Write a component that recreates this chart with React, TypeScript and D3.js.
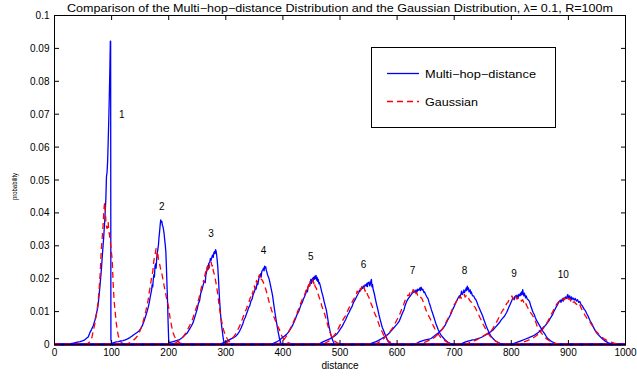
import React from "react";
import * as d3 from "d3";

type Pt = [number, number];

const xTicks = [0, 100, 200, 300, 400, 500, 600, 700, 800, 900, 1000];
const yTicks = [0, 0.01, 0.02, 0.03, 0.04, 0.05, 0.06, 0.07, 0.08, 0.09, 0.1];
const hopNames = ["1", "2", "3", "4", "5", "6", "7", "8", "9", "10"];
const hopLabelD = [118, 188, 274, 366, 449, 541, 627, 718, 805, 891];
const hopLabelP = [0.0698, 0.0419, 0.0338, 0.0285, 0.0267, 0.0242, 0.0224, 0.0226, 0.0216, 0.0213];

const blue1: Pt[] = [[0,0],[20,0],[25,0.0002],[30,0.0003],[35,0.0005],[40,0.0007],[45,0.0009],[50,0.0012],[53,0.0014],[56,0.0019],[59,0.0023],[62,0.0036],[65,0.0046],[68,0.0058],[71,0.0075],[74,0.0098],[76,0.0115],[78,0.0148],[80,0.0185],[82,0.0226],[84,0.0275],[86,0.0322],[88,0.0376],[90,0.0445],[91,0.051],[92,0.0522],[93,0.0555],[94,0.0615],[95,0.068],[96,0.0755],[97,0.084],[97.8,0.0922],[98.3,0.0922],[98.8,0.0015],[100,0.0004],[101,0],[1000,0]];
const red1: Pt[] = [[0,0],[50,0],[58,0.0003],[62,0.0008],[65,0.0018],[68,0.0042],[71,0.0066],[74,0.0098],[76,0.0125],[78,0.0165],[80,0.0215],[82,0.029],[84,0.0335],[85,0.036],[86,0.0392],[87,0.042],[88,0.0432],[89,0.0405],[90,0.0375],[91,0.0358],[92,0.0352],[93,0.0368],[94,0.0372],[95,0.0345],[96,0.0338],[97,0.0325],[98,0.031],[99,0.029],[100,0.0275],[101,0.026],[102,0.0215],[103,0.0175],[104,0.0145],[105,0.012],[106,0.0105],[107,0.0085],[108,0.0068],[110,0.0042],[112,0.0025],[114,0.0015],[117,0.0006],[121,0.0002],[126,0],[1000,0]];

const blue2: Pt[] = [[0,0],[98,0],[100,0.0003],[104,0.0006],[108,0.0008],[112,0.0009],[116,0.0011],[120,0.0012],[124,0.0014],[128,0.0017],[132,0.0021],[136,0.0026],[140,0.0031],[144,0.0036],[148,0.0041],[151,0.0048],[154,0.0058],[157,0.0072],[160,0.0088],[162,0.0099],[164,0.0112],[166,0.0128],[168,0.0148],[170,0.0165],[171,0.0182],[172,0.0175],[173,0.0198],[174,0.0212],[175,0.0205],[176,0.0238],[177,0.0245],[178,0.0232],[179,0.0262],[180,0.0278],[181,0.029],[182,0.0302],[183,0.0325],[184,0.0342],[185,0.0362],[186,0.0379],[187,0.0372],[188,0.0374],[189,0.0362],[190,0.0358],[191,0.0348],[192,0.0336],[193,0.0318],[194,0.0302],[195,0.0282],[196,0.0235],[197,0.0182],[198,0.013],[199,0.0065],[200,0.0012],[201,0],[1000,0]];
const red2: Pt[] = [[0,0],[120,0],[128,0.0003],[134,0.0007],[138,0.0012],[142,0.0019],[146,0.0028],[149,0.0038],[152,0.0052],[155,0.0068],[158,0.0088],[160,0.0102],[162,0.0118],[164,0.0135],[166,0.016],[168,0.0178],[170,0.0205],[172,0.022],[174,0.0255],[176,0.0272],[178,0.0292],[179,0.0285],[180,0.0265],[181,0.0278],[182,0.0258],[184,0.0245],[186,0.0228],[188,0.0215],[190,0.0198],[192,0.0178],[194,0.0162],[196,0.0142],[198,0.0128],[200,0.0112],[202,0.0085],[204,0.0066],[206,0.0048],[208,0.0034],[210,0.0025],[213,0.0015],[216,0.0009],[220,0.0004],[226,0.0001],[232,0],[1000,0]];

const blue3: Pt[] = [[0,0],[198,0],[200,0.0004],[204,0.0007],[208,0.0009],[212,0.0011],[216,0.0013],[220,0.0016],[224,0.0021],[228,0.0028],[232,0.0034],[236,0.0045],[240,0.0057],[243,0.0068],[246,0.0085],[248,0.0097],[250,0.0108],[252,0.0125],[254,0.0132],[256,0.0155],[258,0.0165],[260,0.0178],[262,0.0192],[264,0.0188],[265,0.021],[266,0.0218],[268,0.0238],[269,0.0228],[270,0.0246],[272,0.025],[273,0.0262],[274,0.0255],[276,0.0268],[277,0.0272],[278,0.0265],[279,0.0278],[280,0.0282],[281,0.0276],[282,0.0288],[283,0.0284],[284,0.0272],[285,0.0255],[286,0.0235],[287,0.0205],[288,0.0172],[289,0.0138],[290,0.0112],[291,0.0088],[292,0.0068],[293,0.0052],[294,0.004],[295,0.0025],[296,0.0014],[297,0.0006],[298,0],[1000,0]];
const red3: Pt[] = [[0,0],[205,0],[212,0.0005],[218,0.0011],[222,0.0017],[226,0.0025],[230,0.0035],[233,0.0045],[236,0.0055],[239,0.0066],[242,0.0078],[245,0.0095],[248,0.011],[250,0.012],[252,0.0135],[254,0.0148],[256,0.0162],[257,0.0172],[259,0.0182],[261,0.0195],[262,0.0188],[263,0.0208],[265,0.0222],[266,0.0215],[268,0.0238],[270,0.0245],[271,0.0232],[272,0.0248],[274,0.0253],[275,0.0245],[276,0.0238],[277,0.0242],[278,0.0225],[280,0.0212],[282,0.0195],[284,0.0175],[286,0.0152],[288,0.0122],[290,0.0098],[292,0.0078],[294,0.006],[296,0.0045],[298,0.0034],[300,0.0026],[302,0.0019],[304,0.0013],[306,0.0009],[310,0.0005],[316,0.0002],[324,0],[1000,0]];

const blue4: Pt[] = [[0,0],[290,0],[294,0.0004],[298,0.0007],[302,0.001],[306,0.0014],[310,0.0018],[314,0.0021],[318,0.0026],[321,0.0032],[324,0.004],[327,0.0051],[330,0.0064],[332,0.0075],[334,0.0082],[336,0.0092],[338,0.0101],[340,0.0112],[342,0.0118],[344,0.0132],[346,0.0138],[348,0.0152],[350,0.016],[352,0.0172],[353,0.0168],[355,0.0188],[356,0.0182],[358,0.0202],[360,0.0208],[361,0.0215],[362,0.0205],[363,0.0222],[365,0.0228],[366,0.0232],[367,0.0224],[368,0.0238],[369,0.0232],[370,0.0236],[371,0.0225],[372,0.022],[373,0.0212],[375,0.0204],[376,0.0198],[378,0.0182],[380,0.0165],[382,0.0148],[384,0.0122],[386,0.0098],[388,0.0076],[390,0.0055],[392,0.0035],[394,0.0018],[396,0.0006],[398,0],[1000,0]];
const red4: Pt[] = [[0,0],[296,0],[302,0.0006],[306,0.0011],[310,0.0017],[314,0.0024],[318,0.0034],[321,0.0045],[324,0.0055],[327,0.0068],[330,0.0082],[333,0.0096],[336,0.0108],[338,0.0118],[340,0.0125],[342,0.0138],[344,0.0146],[346,0.0158],[347,0.0152],[348,0.0168],[350,0.0178],[351,0.017],[352,0.0185],[354,0.0195],[355,0.0188],[356,0.0202],[358,0.0208],[359,0.0212],[360,0.0205],[361,0.021],[362,0.0198],[364,0.0195],[366,0.0188],[368,0.0178],[370,0.0168],[372,0.0155],[374,0.0142],[376,0.0128],[378,0.0118],[380,0.0105],[382,0.0096],[384,0.0085],[386,0.0076],[388,0.0068],[390,0.0058],[392,0.0052],[394,0.0045],[396,0.0034],[398,0.0026],[400,0.002],[403,0.0014],[406,0.0009],[410,0.0005],[416,0.0002],[424,0],[1000,0]];

const blue5: Pt[] = [[0,0],[380,0],[385,0.0005],[390,0.0009],[394,0.0013],[397,0.0018],[400,0.0022],[403,0.0026],[406,0.003],[409,0.0036],[412,0.0044],[415,0.0052],[418,0.0062],[420,0.007],[422,0.0078],[424,0.0088],[426,0.0095],[428,0.0102],[430,0.0112],[432,0.0122],[434,0.0128],[436,0.0138],[438,0.0146],[440,0.0155],[442,0.0166],[443,0.016],[444,0.0175],[446,0.0182],[447,0.0178],[448,0.019],[449,0.0198],[450,0.0186],[451,0.0195],[452,0.0202],[453,0.0192],[454,0.0205],[455,0.0198],[456,0.0208],[457,0.02],[458,0.021],[459,0.0196],[460,0.0204],[461,0.0192],[462,0.0198],[463,0.0185],[464,0.0188],[466,0.0175],[468,0.016],[470,0.0148],[472,0.0132],[474,0.0118],[476,0.0105],[478,0.0085],[480,0.0062],[482,0.0045],[484,0.003],[486,0.0018],[488,0.0009],[490,0.0003],[492,0],[1000,0]];
const red5: Pt[] = [[0,0],[390,0],[396,0.0006],[400,0.0012],[404,0.002],[408,0.003],[411,0.0042],[414,0.0052],[417,0.0062],[420,0.0075],[423,0.0086],[426,0.0101],[428,0.011],[430,0.0121],[432,0.0128],[434,0.0138],[436,0.0145],[438,0.0152],[440,0.016],[441,0.0168],[442,0.0162],[444,0.0175],[445,0.0182],[446,0.0172],[447,0.0185],[448,0.0192],[450,0.0188],[451,0.0196],[452,0.0197],[453,0.019],[454,0.0185],[455,0.0192],[456,0.0178],[458,0.0172],[460,0.0165],[462,0.0152],[464,0.0141],[466,0.0132],[468,0.0118],[470,0.0108],[472,0.0098],[474,0.0088],[476,0.0075],[478,0.0062],[480,0.005],[482,0.0039],[484,0.003],[486,0.0022],[488,0.0016],[491,0.001],[495,0.0005],[500,0.0002],[508,0],[1000,0]];

const blue6: Pt[] = [[0,0],[460,0],[466,0.0004],[470,0.0008],[474,0.0011],[478,0.0014],[482,0.0017],[486,0.0021],[490,0.0025],[494,0.0031],[498,0.004],[501,0.0048],[504,0.0056],[507,0.0066],[510,0.0076],[513,0.0088],[516,0.0098],[519,0.0109],[521,0.0115],[523,0.0125],[525,0.0132],[527,0.0138],[529,0.0145],[531,0.0152],[533,0.0158],[534,0.0165],[535,0.0162],[537,0.0168],[538,0.0175],[540,0.017],[541,0.0178],[543,0.0175],[544,0.0182],[546,0.0178],[547,0.0186],[548,0.0176],[549,0.0188],[550,0.0185],[551,0.019],[552,0.0178],[553,0.0182],[554,0.0192],[555,0.0198],[556,0.0175],[557,0.0182],[558,0.0168],[560,0.0155],[562,0.0138],[564,0.0122],[566,0.0108],[568,0.0092],[570,0.0078],[572,0.0065],[574,0.0052],[576,0.0044],[578,0.0035],[580,0.0026],[582,0.0018],[584,0.001],[587,0.0004],[590,0],[1000,0]];
const red6: Pt[] = [[0,0],[470,0],[476,0.0006],[480,0.001],[484,0.0016],[488,0.0024],[492,0.0033],[495,0.0042],[498,0.0052],[501,0.0062],[504,0.0071],[507,0.008],[510,0.0088],[513,0.0101],[516,0.0112],[519,0.0122],[521,0.0128],[523,0.0135],[525,0.0141],[527,0.0148],[529,0.0155],[530,0.0162],[532,0.0158],[533,0.0168],[535,0.0172],[536,0.0165],[538,0.0175],[540,0.0177],[541,0.017],[542,0.0174],[544,0.0162],[546,0.0166],[548,0.0152],[550,0.0145],[552,0.0138],[554,0.0126],[556,0.0118],[558,0.0108],[560,0.0098],[562,0.009],[564,0.0082],[566,0.0072],[568,0.0062],[570,0.0052],[572,0.0045],[574,0.0038],[576,0.003],[578,0.0024],[580,0.0019],[583,0.0014],[586,0.0009],[590,0.0005],[596,0.0002],[604,0],[1000,0]];

const blue7: Pt[] = [[0,0],[550,0],[556,0.0004],[562,0.0008],[566,0.0011],[570,0.0015],[574,0.0019],[578,0.0023],[582,0.0028],[586,0.0034],[590,0.0042],[594,0.005],[598,0.0058],[601,0.0064],[604,0.0072],[607,0.0085],[610,0.0098],[612,0.0105],[614,0.0118],[616,0.0128],[618,0.0135],[620,0.0141],[622,0.0145],[624,0.015],[626,0.0155],[628,0.0158],[630,0.0162],[632,0.0158],[633,0.0166],[635,0.016],[636,0.0168],[638,0.0165],[640,0.0172],[641,0.0164],[642,0.0174],[644,0.0166],[645,0.0168],[647,0.0158],[648,0.016],[650,0.0152],[652,0.0145],[654,0.014],[656,0.0128],[658,0.0118],[660,0.0106],[662,0.0096],[664,0.0085],[666,0.0074],[668,0.0063],[670,0.0054],[672,0.0045],[674,0.0038],[676,0.0031],[678,0.0026],[680,0.0022],[683,0.0016],[686,0.0011],[689,0.0007],[692,0.0004],[696,0],[1000,0]];
const red7: Pt[] = [[0,0],[560,0],[566,0.0005],[570,0.0009],[574,0.0014],[578,0.002],[582,0.0028],[586,0.0036],[590,0.0045],[594,0.0055],[597,0.0066],[600,0.0076],[603,0.0085],[606,0.0098],[609,0.0112],[611,0.0118],[613,0.013],[615,0.0138],[617,0.0145],[619,0.015],[621,0.0148],[622,0.0156],[624,0.0162],[625,0.0155],[627,0.016],[628,0.0167],[630,0.0164],[631,0.0168],[633,0.0155],[634,0.0158],[636,0.015],[638,0.0152],[640,0.0145],[642,0.0142],[644,0.0138],[646,0.0128],[648,0.0118],[650,0.0108],[652,0.0098],[654,0.009],[656,0.0085],[658,0.0078],[660,0.007],[662,0.0062],[664,0.0055],[666,0.0048],[668,0.0042],[671,0.0035],[674,0.0027],[677,0.002],[680,0.0016],[683,0.0012],[687,0.0008],[692,0.0004],[700,0.0001],[708,0],[1000,0]];

const blue8: Pt[] = [[0,0],[630,0],[636,0.0005],[640,0.0009],[644,0.0011],[648,0.0013],[652,0.0015],[656,0.0016],[660,0.0019],[664,0.0024],[668,0.003],[672,0.0034],[676,0.0042],[680,0.0048],[684,0.0058],[688,0.0072],[691,0.0082],[694,0.0092],[697,0.0105],[699,0.0112],[701,0.012],[703,0.0128],[705,0.0135],[707,0.0142],[709,0.0148],[710,0.0145],[712,0.0155],[713,0.0162],[714,0.0152],[716,0.0158],[717,0.0166],[718,0.0158],[720,0.0165],[721,0.0172],[722,0.0164],[723,0.0177],[724,0.0168],[725,0.0172],[726,0.016],[728,0.0166],[729,0.0155],[730,0.016],[732,0.0148],[734,0.0148],[736,0.014],[738,0.0136],[740,0.0128],[742,0.0118],[744,0.011],[746,0.0102],[748,0.0094],[750,0.0086],[752,0.0075],[754,0.0066],[756,0.0056],[758,0.0048],[760,0.004],[762,0.0033],[764,0.0026],[766,0.0022],[768,0.0018],[771,0.0013],[774,0.0009],[777,0.0006],[781,0.0003],[786,0],[1000,0]];
const red8: Pt[] = [[0,0],[640,0],[646,0.0005],[650,0.0008],[654,0.0011],[658,0.0014],[662,0.0017],[666,0.0022],[670,0.0029],[674,0.0036],[678,0.0044],[681,0.0052],[684,0.0062],[687,0.0072],[690,0.0082],[692,0.0088],[694,0.0096],[696,0.0104],[698,0.0116],[700,0.0122],[702,0.0125],[704,0.0132],[706,0.0138],[708,0.0135],[709,0.0142],[711,0.0146],[712,0.014],[714,0.015],[716,0.0148],[718,0.0152],[719,0.0144],[721,0.0148],[723,0.014],[725,0.0142],[727,0.0134],[729,0.013],[731,0.0128],[733,0.0124],[735,0.0116],[737,0.0112],[739,0.0104],[741,0.0098],[743,0.009],[745,0.0082],[747,0.0075],[749,0.0068],[751,0.006],[753,0.0054],[755,0.0047],[757,0.0042],[759,0.0036],[761,0.003],[763,0.0025],[766,0.002],[769,0.0015],[773,0.001],[777,0.0006],[782,0.0003],[790,0],[1000,0]];

const blue9: Pt[] = [[0,0],[710,0],[716,0.0005],[720,0.0008],[724,0.001],[728,0.0012],[732,0.0014],[736,0.0015],[740,0.0017],[744,0.0019],[748,0.0022],[752,0.0026],[756,0.003],[760,0.0034],[764,0.0039],[768,0.0044],[772,0.0052],[776,0.006],[779,0.0066],[782,0.0074],[785,0.008],[788,0.0086],[790,0.0092],[792,0.0098],[794,0.0106],[796,0.0115],[798,0.0122],[800,0.013],[802,0.0138],[803,0.0142],[805,0.0136],[806,0.0145],[808,0.0148],[809,0.014],[810,0.015],[812,0.0142],[813,0.0152],[815,0.0148],[816,0.0156],[817,0.015],[818,0.016],[819,0.0152],[820,0.0167],[821,0.0155],[822,0.0148],[823,0.0156],[825,0.0142],[826,0.0148],[828,0.0138],[830,0.0135],[832,0.013],[834,0.0118],[836,0.0108],[838,0.0098],[840,0.0092],[842,0.0082],[844,0.0074],[846,0.0068],[848,0.0062],[850,0.0056],[852,0.005],[854,0.0044],[856,0.0038],[858,0.0034],[860,0.0028],[862,0.0022],[864,0.0018],[867,0.0014],[870,0.001],[874,0.0006],[878,0.0003],[884,0],[1000,0]];
const red9: Pt[] = [[0,0],[720,0],[726,0.0005],[730,0.0008],[735,0.0011],[740,0.0015],[745,0.002],[750,0.0025],[755,0.003],[760,0.0035],[764,0.0039],[768,0.005],[772,0.0062],[776,0.0074],[779,0.0085],[782,0.0095],[785,0.0104],[788,0.011],[790,0.0118],[792,0.0125],[794,0.0128],[796,0.0135],[798,0.0138],[800,0.0142],[801,0.0148],[803,0.0138],[805,0.0146],[806,0.0142],[808,0.0145],[810,0.0138],[812,0.0142],[814,0.0135],[816,0.0138],[818,0.0132],[820,0.0136],[822,0.0128],[824,0.0132],[826,0.0122],[828,0.0115],[830,0.0108],[832,0.0102],[834,0.0096],[836,0.0092],[838,0.0086],[840,0.008],[842,0.0072],[844,0.0062],[846,0.0052],[848,0.0045],[850,0.004],[853,0.0034],[856,0.0028],[859,0.0022],[862,0.0017],[866,0.0012],[870,0.0008],[875,0.0005],[880,0.0002],[888,0],[1000,0]];

const blue10: Pt[] = [[0,0],[800,0],[806,0.0004],[812,0.0008],[818,0.0012],[824,0.0016],[830,0.002],[834,0.0023],[838,0.0026],[842,0.003],[846,0.0035],[850,0.004],[854,0.0048],[857,0.0054],[860,0.0058],[863,0.0066],[866,0.0072],[869,0.0082],[872,0.009],[874,0.0098],[876,0.0105],[878,0.0112],[880,0.0118],[882,0.0125],[884,0.013],[886,0.0135],[887,0.0128],[889,0.0138],[891,0.0132],[892,0.0142],[894,0.0138],[895,0.0145],[897,0.014],[898,0.0148],[899,0.0152],[900,0.0142],[902,0.0148],[903,0.0138],[905,0.0145],[906,0.0136],[908,0.0142],[910,0.0135],[912,0.014],[914,0.0132],[916,0.0136],[918,0.0128],[920,0.0131],[922,0.0122],[924,0.0118],[926,0.0112],[928,0.0106],[930,0.0102],[932,0.0094],[934,0.0088],[936,0.008],[938,0.0072],[940,0.0066],[942,0.006],[944,0.0052],[946,0.0045],[948,0.0039],[950,0.0034],[952,0.003],[955,0.0025],[958,0.002],[961,0.0015],[964,0.0011],[967,0.0008],[970,0.0005],[975,0.0002],[982,0],[1000,0]];
const red10: Pt[] = [[0,0],[810,0],[816,0.0004],[822,0.0008],[828,0.0012],[834,0.0016],[840,0.0022],[845,0.0028],[850,0.0036],[854,0.0044],[858,0.0054],[862,0.0064],[865,0.0074],[868,0.0084],[871,0.0095],[874,0.0105],[876,0.011],[878,0.0118],[880,0.0124],[882,0.0128],[884,0.0132],[886,0.0136],[888,0.0134],[890,0.014],[892,0.0135],[894,0.0141],[896,0.0136],[898,0.0142],[900,0.0138],[902,0.014],[904,0.0132],[906,0.0136],[908,0.0128],[910,0.013],[912,0.0126],[914,0.0122],[916,0.0124],[918,0.0118],[920,0.0121],[922,0.0112],[924,0.0105],[926,0.0098],[928,0.0092],[930,0.0086],[932,0.0081],[934,0.0076],[937,0.0071],[940,0.0062],[943,0.0054],[946,0.0046],[949,0.0039],[952,0.0034],[955,0.0028],[958,0.0023],[962,0.0018],[966,0.0014],[970,0.001],[975,0.0007],[980,0.0004],[986,0.0002],[994,0],[1000,0]];

const blueSeries = [blue1, blue2, blue3, blue4, blue5, blue6, blue7, blue8, blue9, blue10];
const redSeries = [red1, red2, red3, red4, red5, red6, red7, red8, red9, red10];

const titleText = "Comparison of the Multi\u2212hop\u2212distance Distribution and the Gaussian Distribution, \u03bb= 0.1, R=100m";
const legendLabels = ["Multi\u2212hop\u2212distance", "Gaussian"];

const W = 637;
const H = 376;
const FONT = "'Liberation Sans', Arial, Helvetica, sans-serif";

export default function App() {
  const x = d3.scaleLinear().domain([0, 1000]).range([54.5, 625.5]);
  const y = d3.scaleLinear().domain([0, 0.1]).range([344.5, 15.5]);
  const line = d3
    .line<Pt>()
    .x((d) => x(d[0]))
    .y((d) => y(d[1]));
  const [x0, x1] = x.range();
  const [yb, yt] = y.range();
  const tl = 4.5;
  const fmtY = (v: number) => (v === 0 ? "0" : String(+v.toFixed(2)));

  return (
    <svg
      width={W}
      height={H}
      viewBox={`0 0 ${W} ${H}`}
      style={{ position: "absolute", left: 0, top: 0, background: "#fff", display: "block" }}
      fontFamily={FONT}
    >
      <rect x={0} y={0} width={W} height={H} fill="#fff" />
      {/* curves */}
      <g fill="none" strokeLinejoin="round">
        {blueSeries.map((s, i) => (
          <g key={i}>
            <path d={line(s) || ""} stroke="#0000ff" strokeWidth={1.3} />
            <path d={line(redSeries[i]) || ""} stroke="#ff0000" strokeWidth={1.3} strokeDasharray="6,4" />
          </g>
        ))}
      </g>
      {/* axes box */}
      <rect x={x0} y={yt} width={x1 - x0} height={yb - yt} fill="none" stroke="#000" strokeWidth={1} />
      {xTicks.map((t) => (
        <g key={"x" + t}>
          <line x1={x(t)} x2={x(t)} y1={yb} y2={yb - tl} stroke="#000" />
          <line x1={x(t)} x2={x(t)} y1={yt} y2={yt + tl} stroke="#000" />
          <text x={x(t)} y={356} fontSize={10} textAnchor="middle" fill="#000">
            {t}
          </text>
        </g>
      ))}
      {yTicks.map((t) => (
        <g key={"y" + t}>
          <line x1={x0} x2={x0 + tl} y1={y(t)} y2={y(t)} stroke="#000" />
          <line x1={x1} x2={x1 - tl} y1={y(t)} y2={y(t)} stroke="#000" />
          <text x={49.5} y={y(t)} dy="0.35em" fontSize={10} textAnchor="end" fill="#000">
            {fmtY(t)}
          </text>
        </g>
      ))}
      {/* hop labels */}
      {hopNames.map((n, i) => (
        <text key={"h" + n} x={x(hopLabelD[i])} y={y(hopLabelP[i])} dy="0.35em" fontSize={10} textAnchor="middle" fill="#000">
          {n}
        </text>
      ))}
      {/* title and axis labels */}
      <text
        x={(x0 + x1) / 2}
        y={12}
        fontSize={10.5}
        textAnchor="middle"
        fill="#000"
        textLength={546}
        lengthAdjust="spacingAndGlyphs"
      >
        {titleText}
      </text>
      <text x={(x0 + x1) / 2} y={369} fontSize={10} textAnchor="middle" fill="#000">
        distance
      </text>
      <text
        transform={`translate(16.5,186.5) rotate(-90)`}
        fontSize={7}
        textAnchor="middle"
        fill="#000"
        textLength={27}
        lengthAdjust="spacingAndGlyphs"
      >
        probability
      </text>
      {/* legend */}
      <rect x={371.5} y={47.5} width={184} height={80} fill="#fff" stroke="#000" strokeWidth={1} />
      <line x1={387} x2={419} y1={73.5} y2={73.5} stroke="#0000ff" strokeWidth={1.3} />
      <text x={425} y={77.5} fontSize={10.5} fill="#000" textLength={111} lengthAdjust="spacingAndGlyphs">
        {legendLabels[0]}
      </text>
      <line x1={387} x2={419} y1={101.5} y2={101.5} stroke="#ff0000" strokeWidth={1.3} strokeDasharray="6,4" />
      <text x={425} y={105.5} fontSize={10.5} fill="#000" textLength={53} lengthAdjust="spacingAndGlyphs">
        {legendLabels[1]}
      </text>
    </svg>
  );
}
